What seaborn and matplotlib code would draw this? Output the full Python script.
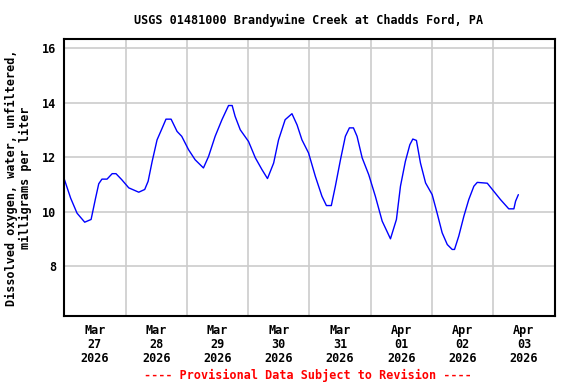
import matplotlib
matplotlib.use("Agg")
import matplotlib.pyplot as plt
import matplotlib.dates as mdates
import seaborn as sns
import pandas as pd
import numpy as np

# Data (local time, dissolved oxygen mg/L)
times = [
    "2026-03-27 00:00", "2026-03-27 02:30", "2026-03-27 05:00", "2026-03-27 08:00",
    "2026-03-27 10:30", "2026-03-27 12:15", "2026-03-27 13:30", "2026-03-27 14:45",
    "2026-03-27 16:45", "2026-03-27 18:45", "2026-03-27 20:15", "2026-03-27 22:30",
    "2026-03-28 01:15", "2026-03-28 05:10", "2026-03-28 07:30", "2026-03-28 08:50",
    "2026-03-28 10:25", "2026-03-28 12:20", "2026-03-28 14:20", "2026-03-28 15:50",
    "2026-03-28 17:50", "2026-03-28 20:10", "2026-03-28 22:00", "2026-03-29 00:40",
    "2026-03-29 03:15", "2026-03-29 06:30", "2026-03-29 08:30", "2026-03-29 11:05",
    "2026-03-29 13:45", "2026-03-29 16:20", "2026-03-29 17:45", "2026-03-29 18:55",
    "2026-03-29 20:55", "2026-03-30 00:10", "2026-03-30 02:50", "2026-03-30 05:25",
    "2026-03-30 07:35", "2026-03-30 10:00", "2026-03-30 11:55", "2026-03-30 14:30",
    "2026-03-30 17:10", "2026-03-30 19:10", "2026-03-30 21:05", "2026-03-30 23:40",
    "2026-03-31 02:20", "2026-03-31 04:55", "2026-03-31 06:40", "2026-03-31 08:35",
    "2026-03-31 10:10", "2026-03-31 12:10", "2026-03-31 14:05", "2026-03-31 15:40",
    "2026-03-31 17:15", "2026-03-31 18:40", "2026-03-31 20:40", "2026-03-31 23:15",
    "2026-04-01 01:50", "2026-04-01 04:30", "2026-04-01 07:45", "2026-04-01 10:05",
    "2026-04-01 11:40", "2026-04-01 13:35", "2026-04-01 15:20", "2026-04-01 16:30",
    "2026-04-01 17:55", "2026-04-01 19:30", "2026-04-01 21:30", "2026-04-02 00:05",
    "2026-04-02 02:00", "2026-04-02 04:00", "2026-04-02 06:00", "2026-04-02 07:55",
    "2026-04-02 08:50", "2026-04-02 10:30", "2026-04-02 12:30", "2026-04-02 14:25",
    "2026-04-02 16:25", "2026-04-02 17:45", "2026-04-02 21:40", "2026-04-03 00:15",
    "2026-04-03 02:50", "2026-04-03 06:05", "2026-04-03 08:05", "2026-04-03 08:45",
    "2026-04-03 09:50",
]
oxygen = [
    11.2, 10.5, 9.95, 9.62,
    9.72, 10.5, 11.03, 11.2,
    11.2, 11.4, 11.4, 11.18,
    10.88, 10.72, 10.82, 11.12,
    11.85, 12.64, 13.07, 13.4,
    13.4, 12.95, 12.77, 12.28,
    11.91, 11.61, 12.03, 12.77,
    13.38, 13.9, 13.9, 13.5,
    13.01, 12.58, 11.98, 11.55,
    11.22, 11.79, 12.64, 13.38,
    13.6, 13.19, 12.64, 12.16,
    11.3, 10.57, 10.23, 10.23,
    10.94, 11.91, 12.77, 13.08,
    13.08, 12.77, 11.98, 11.36,
    10.57, 9.66, 9.01, 9.72,
    10.94, 11.85, 12.46, 12.67,
    12.62, 11.79, 11.06, 10.63,
    9.96, 9.23, 8.8, 8.62,
    8.62, 9.11, 9.84, 10.45,
    10.94, 11.08, 11.05, 10.75,
    10.45, 10.11, 10.11, 10.39,
    10.63,
]
y_ticks = [8, 10, 12, 14, 16]
day_labels = ["Mar\n27\n2026", "Mar\n28\n2026", "Mar\n29\n2026", "Mar\n30\n2026",
              "Mar\n31\n2026", "Apr\n01\n2026", "Apr\n02\n2026", "Apr\n03\n2026"]

df = pd.DataFrame({"time": pd.to_datetime(times), "oxygen": oxygen})

sns.set_style("white")
plt.rcParams["font.family"] = ["DejaVu Sans Mono"]
plt.rcParams["font.weight"] = "bold"
plt.rcParams["text.color"] = "black"
plt.rcParams["axes.labelcolor"] = "black"
plt.rcParams["xtick.color"] = "black"
plt.rcParams["ytick.color"] = "black"

fig = plt.figure(figsize=(5.76, 3.84), dpi=100)
ax = fig.add_axes([0.1116, 0.1779, 0.8511, 0.7198])

sns.lineplot(data=df, x="time", y="oxygen", ax=ax, color="#0000ff", linewidth=1.0)

x0 = pd.Timestamp("2026-03-27 00:00")
x1 = pd.Timestamp("2026-04-04 00:00")
ax.set_xlim(x0, x1)
ax.set_ylim(6.19, 16.33)

midnights = pd.date_range("2026-03-28", "2026-04-03", freq="D")
noons = pd.date_range("2026-03-27 12:00", "2026-04-03 12:00", freq="D")
ax.set_xticks(mdates.date2num(noons))
ax.set_xticklabels(day_labels)
ax.set_xticks(mdates.date2num(midnights), minor=True)
ax.set_yticks(y_ticks)
ax.set_yticklabels([str(v) for v in y_ticks])

ax.grid(False)
ax.grid(True, which="minor", axis="x", color="#cccccc", linewidth=1.2)
ax.grid(True, which="major", axis="y", color="#cccccc", linewidth=1.2)
ax.set_axisbelow(True)

ax.tick_params(axis="both", which="both", length=0, labelsize=8.5, pad=6,
               colors="black")
for lab in ax.get_xticklabels() + ax.get_yticklabels():
    lab.set_fontweight("bold")
    lab.set_linespacing(1.1)

for s in ax.spines.values():
    s.set_visible(True)
    s.set_color("black")
    s.set_linewidth(1.5)

ax.set_xlabel("")
ax.set_ylabel("Dissolved oxygen, water, unfiltered,\nmilligrams per liter",
              fontsize=8.5, fontweight="bold", linespacing=1.1, labelpad=7,
              color="black")

fig.text(0.535, 0.948, "USGS 01481000 Brandywine Creek at Chadds Ford, PA",
         ha="center", va="center", fontsize=8.5, fontweight="bold", color="black")
fig.text(0.535, 0.023, "---- Provisional Data Subject to Revision ----",
         ha="center", va="center", fontsize=8.5, fontweight="bold", color="#ff0000")

fig.savefig("out.png", dpi=100)
